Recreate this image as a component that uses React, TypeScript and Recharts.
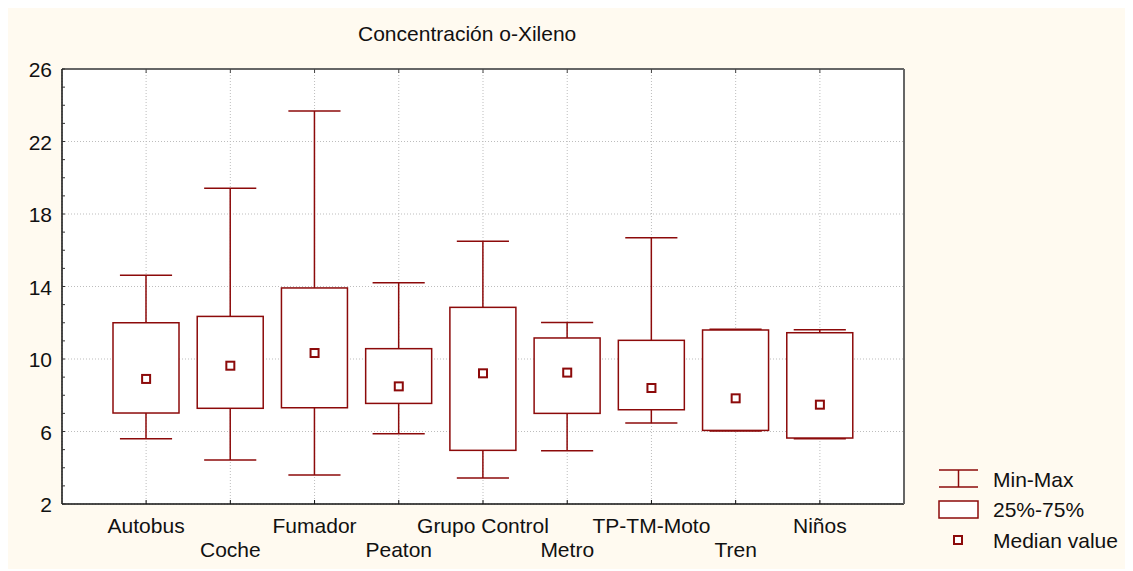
import React from 'react';
import { ComposedChart, Bar, Scatter, XAxis, YAxis, CartesianGrid } from 'recharts';

const categories = ['Autobus', 'Coche', 'Fumador', 'Peaton', 'Grupo Control', 'Metro', 'TP-TM-Moto', 'Tren', 'Niños'];
const minValues = [5.6, 4.43, 3.6, 5.88, 3.43, 4.94, 6.47, 6.03, 5.6];
const q1Values = [7.02, 7.28, 7.31, 7.55, 4.96, 7.0, 7.2, 6.06, 5.64];
const medianValues = [8.9, 9.63, 10.33, 8.49, 9.21, 9.25, 8.4, 7.83, 7.48];
const q3Values = [12.0, 12.35, 13.92, 10.57, 12.85, 11.16, 11.03, 11.6, 11.45];
const maxValues = [14.62, 19.42, 23.68, 14.21, 16.49, 12.02, 16.69, 11.64, 11.62];

const yTicks = [2, 3, 4, 5, 6, 7, 8, 9, 10, 11, 12, 13, 14, 15, 16, 17, 18, 19, 20, 21, 22, 23, 24, 25, 26];
const yLabelTicks = [2, 6, 10, 14, 18, 22, 26];
const legendLabels = ['Min-Max', '25%-75%', 'Median value'];

const RED = '#8c0a0a';
const FONT = '"Liberation Sans", Arial, sans-serif';

const data = categories.map((name, i) => ({
  name,
  range: [minValues[i], maxValues[i]],
  box: [q1Values[i], q3Values[i]],
  median: medianValues[i],
}));

const Whisker = (props: any) => {
  const { x, y, width, height } = props;
  const top = Math.min(y, y + height);
  const bottom = Math.max(y, y + height);
  const cx = x + width / 2;
  const cap = width * 0.79;
  return (
    <g stroke={RED} strokeWidth={1.5}>
      <line x1={cx} y1={top} x2={cx} y2={bottom} />
      <line x1={cx - cap / 2} y1={top} x2={cx + cap / 2} y2={top} />
      <line x1={cx - cap / 2} y1={bottom} x2={cx + cap / 2} y2={bottom} />
    </g>
  );
};

const Box = (props: any) => {
  const { x, y, width, height } = props;
  const top = Math.min(y, y + height);
  const h = Math.abs(height);
  return <rect x={x} y={top} width={width} height={h} fill="#fff" stroke={RED} strokeWidth={1.5} />;
};

const MedianMark = (props: any) => {
  const { cx, cy } = props;
  return <rect x={cx - 4} y={cy - 4} width={8} height={8} fill="#fff" stroke={RED} strokeWidth={2} />;
};

const XTick = (props: any) => {
  const { x, y, payload, index } = props;
  return (
    <text x={x} y={y + 29 + (index % 2 === 1 ? 23.5 : 0)} textAnchor="middle" fontSize={21} fontFamily={FONT} fill="#111">
      {payload.value}
    </text>
  );
};

const YTick = (props: any) => {
  const { x, y, payload } = props;
  if (!yLabelTicks.includes(payload.value)) return <g />;
  return (
    <text x={x} y={y + 8} textAnchor="end" fontSize={21} fontFamily={FONT} fill="#111">
      {payload.value}
    </text>
  );
};

const NoLabel = () => <g />;

const LegendBox = () => (
  <svg width={195} height={90} style={{ position: 'absolute', left: 930, top: 458, overflow: 'visible' }}>
    <g stroke={RED} strokeWidth={1.5} fill="#fff">
      <line x1={4} y1={4} x2={43} y2={4} />
      <line x1={4} y1={21} x2={43} y2={21} />
      <line x1={23.5} y1={4} x2={23.5} y2={21} />
      <rect x={4} y={35} width={39} height={17} />
    </g>
    <rect x={19} y={70} width={8} height={8} fill="#fff" stroke={RED} strokeWidth={2} />
    <g fontSize={21} fontFamily={FONT} fill="#111">
      <text x={58} y={21}>{legendLabels[0]}</text>
      <text x={58} y={51}>{legendLabels[1]}</text>
      <text x={58} y={82}>{legendLabels[2]}</text>
    </g>
  </svg>
);

export default function App() {
  return (
    <div style={{ position: 'relative', width: 1128, height: 561, marginLeft: -3, background: '#fffaf0' }}>
      <div
        style={{
          position: 'absolute',
          left: 353,
          top: 14,
          fontFamily: FONT,
          fontSize: 21,
          color: '#111',
          whiteSpace: 'nowrap',
          lineHeight: '24px',
        }}
      >
        Concentración o-Xileno
      </div>
      <ComposedChart
        width={1128}
        height={561}
        data={data}
        margin={{ top: 61, right: 229, bottom: 0, left: 17 }}
        barSize={66}
      >
        <CartesianGrid
          fill="#fff"
          stroke="#bdbdbd"
          strokeDasharray="1 2"
          horizontalValues={yLabelTicks}
        />
        <XAxis
          dataKey="name"
          type="category"
          interval={0}
          padding={{ left: 42, right: 42 }}
          height={65}
          axisLine={{ stroke: '#111', strokeWidth: 1.5 }}
          tickLine={{ stroke: '#111' }}
          tickSize={-4}
          tickMargin={4}
          tick={<XTick />}
        />
        <XAxis
          xAxisId="top"
          dataKey="name"
          type="category"
          orientation="top"
          mirror
          interval={0}
          padding={{ left: 42, right: 42 }}
          height={1}
          axisLine={{ stroke: '#666', strokeWidth: 2 }}
          tickLine={{ stroke: '#444' }}
          tickSize={4}
          tick={<NoLabel />}
        />
        <YAxis
          type="number"
          domain={[2, 26]}
          ticks={yTicks}
          interval={0}
          width={40}
          axisLine={{ stroke: '#111', strokeWidth: 1.5 }}
          tickLine={{ stroke: '#333' }}
          tickSize={-3}
          tickMargin={13}
          tick={<YTick />}
        />
        <YAxis
          yAxisId="right"
          type="number"
          orientation="right"
          mirror
          domain={[2, 26]}
          ticks={yTicks}
          interval={0}
          width={1}
          axisLine={{ stroke: '#666', strokeWidth: 2 }}
          tickLine={{ stroke: '#444' }}
          tickSize={3}
          tick={<NoLabel />}
        />
        <Bar dataKey="range" shape={<Whisker />} isAnimationActive={false} />
        <Bar xAxisId="top" dataKey="box" shape={<Box />} isAnimationActive={false} />
        <Scatter dataKey="median" shape={<MedianMark />} isAnimationActive={false} />
      </ComposedChart>
      <LegendBox />
    </div>
  );
}
